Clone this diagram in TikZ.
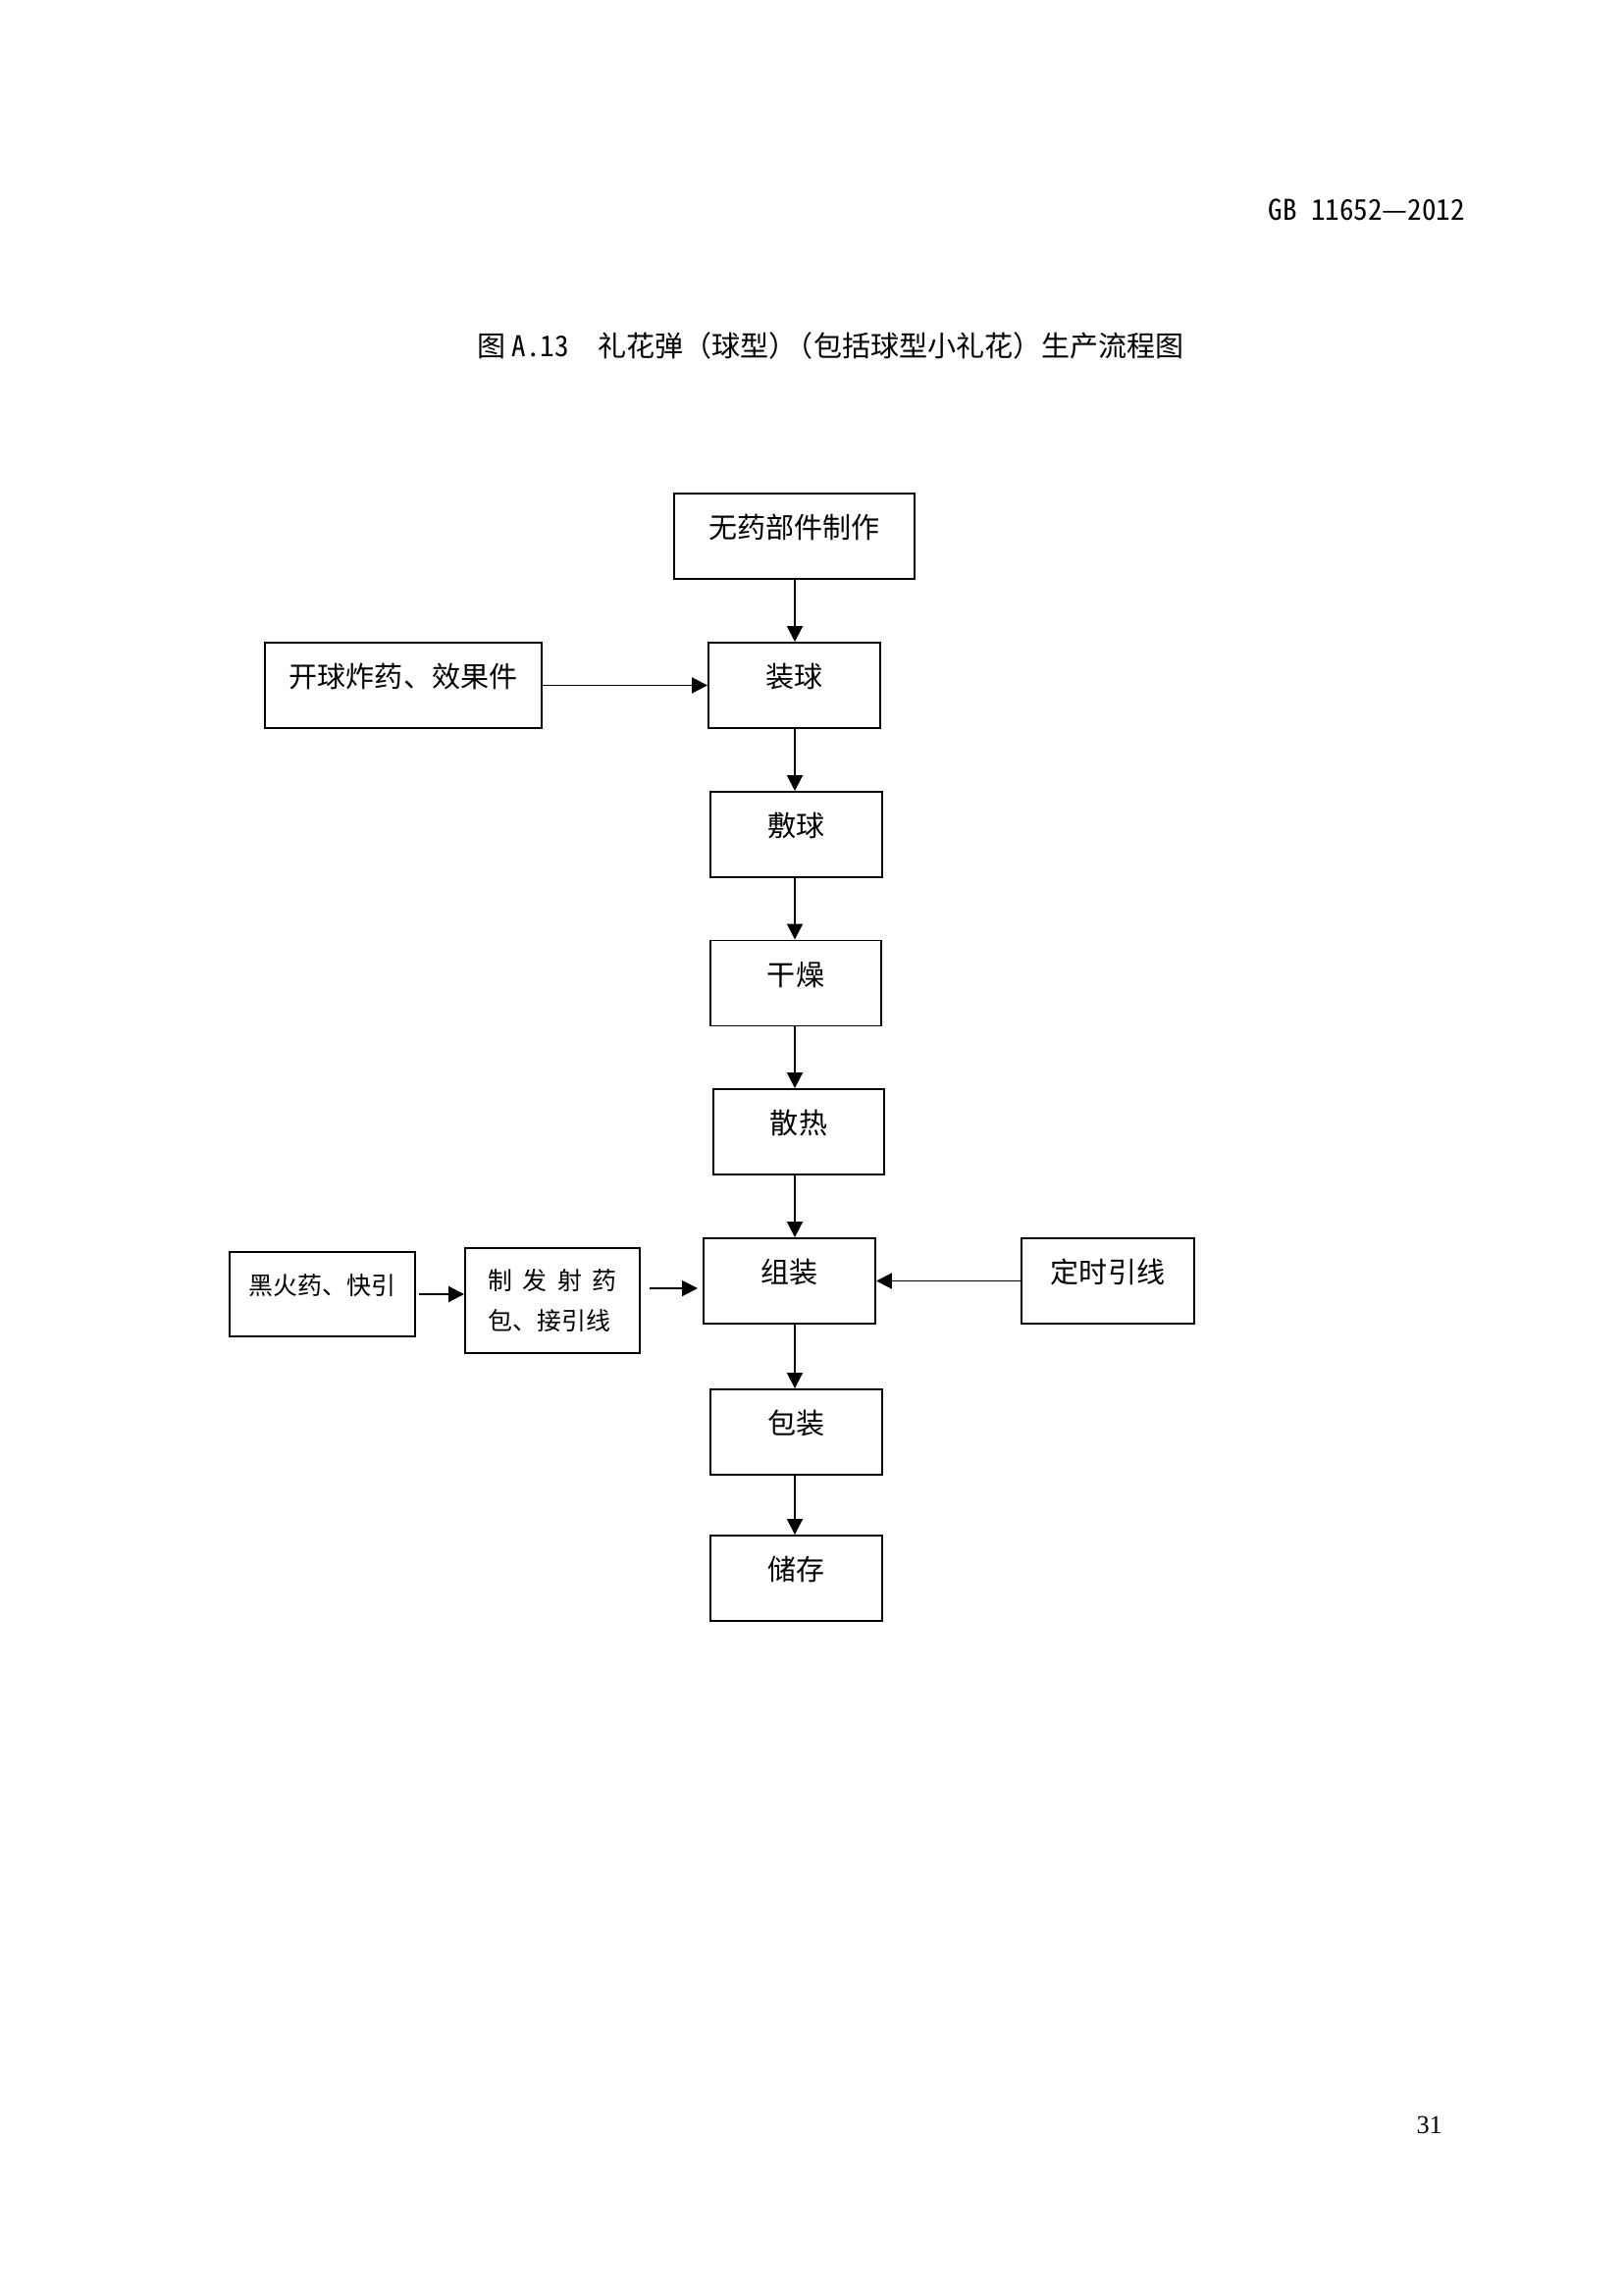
\documentclass[tikz,border=0pt]{standalone}
\usepackage{fontspec}
\setmainfont{Noto Sans CJK SC}
\newfontfamily\hei{Noto Sans CJK SC}[RawFeature=+hwid]
\newfontfamily\numfont{Liberation Serif}
\usetikzlibrary{arrows.meta,calc}
\tikzset{
  pbox/.style={draw, line width=0.7pt, inner sep=0pt, minimum height=11.049mm,
    text height=3.048mm, text depth=2.54mm, font=\fontsize{10.5pt}{12pt}\selectfont},
  sbox/.style={pbox, text height=2.667mm, text depth=2.54mm, font=\fontsize{9pt}{11pt}\selectfont},
  arr/.style={line width=0.7pt, -{Triangle[length=2.03mm, width=2.03mm]}},
}
\begin{document}
\begin{tikzpicture}[x=0.127mm, y=-0.127mm]
\useasboundingbox (0,0) rectangle (1654,2339);

% header, title, page number
\node[anchor=base west, inner sep=0pt, font=\hei\fontsize{10.5pt}{12pt}\selectfont] (hdr) at (1292,225) {GB 11652—2012};
\node[anchor=base west, inner sep=0pt, font=\fontsize{10.5pt}{12pt}\selectfont] (title) at (486,363.5)
  {图\hspace{0.76mm}{\hei A.13}\hspace{3.8mm}礼花弹（球型）\hspace{-0.45em}（包括球型小礼花）生产流程图};
\node[anchor=base west, inner sep=0pt, font=\numfont\fontsize{9.5pt}{11pt}\selectfont] (pnum) at (1443,2174) {31};

% boxes
\node[pbox, minimum width=31.115mm] (nowu) at (809.5,546.5) {无药部件制作};
\node[pbox, minimum width=22.225mm] (zhuang) at (809.5,698.5) {装球};
\node[pbox, minimum width=35.814mm] (kaiqiu) at (411,698.5) {开球炸药、效果件};
\node[pbox, minimum width=22.225mm] (fuqiu) at (811.5,850.5) {敷球};
\node[pbox, minimum width=22.098mm] (ganzao) at (811,1002) {干燥};
\node[pbox, minimum width=22.098mm] (sanre) at (814,1153.5) {散热};
\node[pbox, minimum width=22.225mm] (zuzhuang) at (804.5,1305.5) {组装};
\node[pbox, minimum width=22.352mm] (dingshi) at (1129,1305.5) {定时引线};
\node[sbox, minimum width=24.003mm, minimum height=10.922mm] (heihuo) at (328.5,1319) {黑火药、快引};
\node[draw, line width=0.7pt, minimum width=22.606mm, minimum height=13.589mm,
      inner sep=0pt, align=left,
      font=\fontsize{9pt}{15.1pt}\selectfont] (zhifa) at (563,1325.5)
  {制\hspace{1.33mm}发\hspace{1.33mm}射\hspace{1.33mm}药\\包、接引线};
\node[pbox, minimum width=22.225mm] (baozhuang) at (811.5,1459.5) {包装};
\node[pbox, minimum width=22.225mm] (chucun) at (811.5,1608.5) {储存};

\coordinate (spine) at (810,0);
\coordinate (zf) at ($(zhifa.east)+(0,-12.5)$);

% connectors
\draw[arr] (nowu.south -| spine) -- (zhuang.north -| spine);
\draw[arr] (kaiqiu.east) -- (zhuang.west);
\draw[arr] (zhuang.south -| spine) -- (fuqiu.north -| spine);
\draw[arr] (fuqiu.south -| spine) -- (ganzao.north -| spine);
\draw[arr] (ganzao.south -| spine) -- (sanre.north -| spine);
\draw[arr] (sanre.south -| spine) -- (zuzhuang.north -| spine);
\draw[arr, shorten <=0.38mm] (heihuo.east) -- (heihuo.east -| zhifa.west);
\draw[arr, shorten <=1.14mm, shorten >=0.64mm] (zf) -- (zf -| zuzhuang.west);
\draw[arr] (dingshi.west) -- (zuzhuang.east);
\draw[arr] (zuzhuang.south -| spine) -- (baozhuang.north -| spine);
\draw[arr] (baozhuang.south -| spine) -- (chucun.north -| spine);
\end{tikzpicture}
\end{document}
